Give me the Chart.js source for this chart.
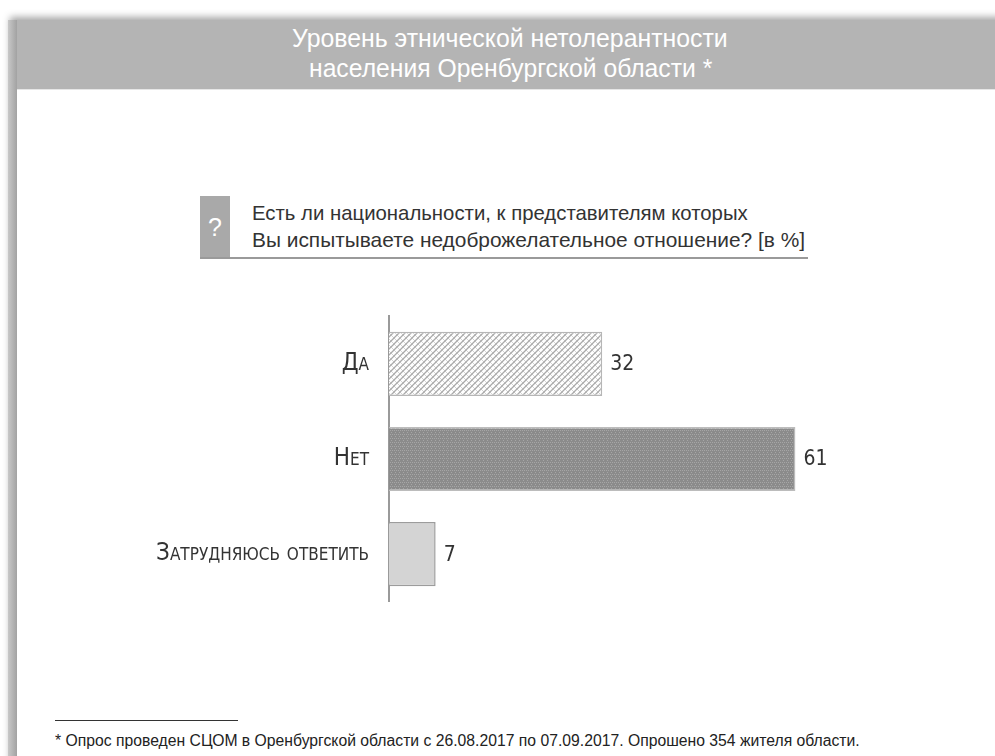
<!DOCTYPE html>
<html lang="ru">
<head>
<meta charset="utf-8">
<title>Уровень этнической нетолерантности</title>
<script src="https://cdn.jsdelivr.net/npm/chart.js@4.4.1/dist/chart.umd.min.js"></script>
<style>
  html, body { margin: 0; padding: 0; background: #fff; }
  body { width: 995px; height: 756px; position: relative; overflow: hidden;
         font-family: 'Liberation Sans', Arial, sans-serif; }
  .panel { position: absolute; left: 17px; top: 20px; right: -20px; bottom: -20px; background: #fff;
           box-shadow: -7px -3px 7px rgba(0,0,0,0.35); }
  .panel-edge { position: absolute; left: 8px; top: 20px; width: 9px; bottom: 0; background: linear-gradient(to right, #c8c8c8, #a2a2a2); }
  .header { position: absolute; left: 17px; top: 20px; width: 978px; height: 69px; background: #b4b4b4;
            border-bottom: 1px solid #e6e6e6; }
  .fit { position: absolute; white-space: nowrap; transform-origin: 0 50%; }
  .title { color: #fff; font-size: 25px; line-height: 30px; }
  .qbox { position: absolute; left: 200px; top: 196px; width: 30px; height: 62px; background: #a9a9a9;
          color: #fff; font-size: 25px; line-height: 62px; text-align: center; }
  .qline { position: absolute; left: 200px; top: 257px; width: 608px; height: 2px; background: #9a9a9a; }
  .q { font-size: 21px; line-height: 26px; color: #333; }
  .fline { position: absolute; left: 55px; top: 720px; width: 183px; height: 1px; background: #333; }
  .foot { font-size: 16px; line-height: 20px; color: #222; }
  #wrap { position: absolute; left: 130px; top: 290px; width: 850px; height: 338px; }
</style>
</head>
<body>
<div class="panel"></div>
<div class="panel-edge"></div>
<div class="header"></div>
<span class="fit title" data-left="292" data-top="23" data-width="436">Уровень этнической нетолерантности</span>
<span class="fit title" data-left="309" data-top="53" data-width="403">населения Оренбургской области *</span>
<div class="qbox">?</div>
<span class="fit q" data-left="252" data-top="200" data-width="496">Есть ли национальности, к представителям которых</span>
<span class="fit q" data-left="252" data-top="227" data-width="553">Вы испытываете недоброжелательное отношение? [в %]</span>
<div class="qline"></div>
<div id="wrap"><canvas id="chart"></canvas></div>
<div class="fline"></div>
<span class="fit foot" data-left="55" data-top="731" data-width="805">* Опрос проведен СЦОМ в Оренбургской области с 26.08.2017 по 07.09.2017. Опрошено 354 жителя области.</span>

<script>
const categories = ['Да', 'Нет', 'Затрудняюсь ответить'];
const values = [32, 61, 7];
const axisMax = 80;

const fontFamily = "'DejaVu Sans Condensed', 'Liberation Sans Narrow', sans-serif";

// squeeze html text lines to the narrow widths of the original
document.querySelectorAll('.fit').forEach(el => {
  el.style.left = el.dataset.left + 'px';
  el.style.top = el.dataset.top + 'px';
  const k = Number(el.dataset.width) / el.offsetWidth;
  el.style.transform = 'scaleX(' + k.toFixed(4) + ')';
});

// little tiles to fake the hatched fills of the original
function makePattern(draw, size) {
  const c = document.createElement('canvas');
  c.width = size; c.height = size;
  draw(c.getContext('2d'), size);
  return c.getContext('2d').createPattern(c, 'repeat');
}

const hatch = makePattern((g, s) => {
  g.fillStyle = '#ffffff';
  g.fillRect(0, 0, s, s);
  g.strokeStyle = '#d4d4d4';
  g.lineWidth = 1;
  g.beginPath();
  g.moveTo(0, 0); g.lineTo(s, s);
  g.stroke();
  g.strokeStyle = '#aaaaaa';
  g.lineWidth = 1.3;
  g.beginPath();
  g.moveTo(0, s); g.lineTo(s, 0);
  g.moveTo(-s / 2, s / 2); g.lineTo(s / 2, -s / 2);
  g.moveTo(s / 2, s * 1.5); g.lineTo(s * 1.5, s / 2);
  g.stroke();
}, 6);

const dots = makePattern((g, s) => {
  g.fillStyle = '#8b8b8b';
  g.fillRect(0, 0, s, s);
  g.fillStyle = '#a6a6a6';
  g.fillRect(0, 0, 1, 1);
  g.fillRect(2, 0, 1, 1);
  g.fillRect(1, 2, 1, 1);
}, 4);

const valueLabels = {
  id: 'valueLabels',
  afterDatasetsDraw(chart) {
    const ctx = chart.ctx;
    const meta = chart.getDatasetMeta(0);
    ctx.save();
    ctx.font = '21px ' + fontFamily;
    ctx.fillStyle = '#333';
    ctx.textBaseline = 'middle';
    ctx.textAlign = 'left';
    meta.data.forEach((bar, i) => {
      ctx.fillText(String(values[i]), bar.x + 8, bar.y + 1);
    });
    ctx.restore();
  }
};

new Chart(document.getElementById('chart'), {
  type: 'bar',
  data: {
    labels: categories,
    datasets: [{
      data: values,
      backgroundColor: [hatch, dots, '#d4d4d4'],
      borderColor: ['#b6b6b6', '#bcbcbc', '#9c9c9c'],
      borderWidth: 1.5,
      categoryPercentage: 1,
      barPercentage: 0.675
    }]
  },
  options: {
    indexAxis: 'y',
    responsive: true,
    maintainAspectRatio: false,
    animation: false,
    layout: { padding: { top: 14, bottom: 16, right: 58, left: 0 } },
    plugins: {
      legend: { display: false },
      tooltip: { enabled: false }
    },
    scales: {
      x: { display: false, min: 0, max: axisMax },
      y: {
        grid: { display: false },
        border: { display: true, color: '#9a9a9a', width: 2 },
        ticks: {
          color: '#333',
          padding: 12,
          font: { family: fontFamily, size: 24, weight: 'small-caps' }
        },
        afterFit(scale) { scale.width = 259; }
      }
    }
  },
  plugins: [valueLabels]
});
</script>
</body>
</html>
